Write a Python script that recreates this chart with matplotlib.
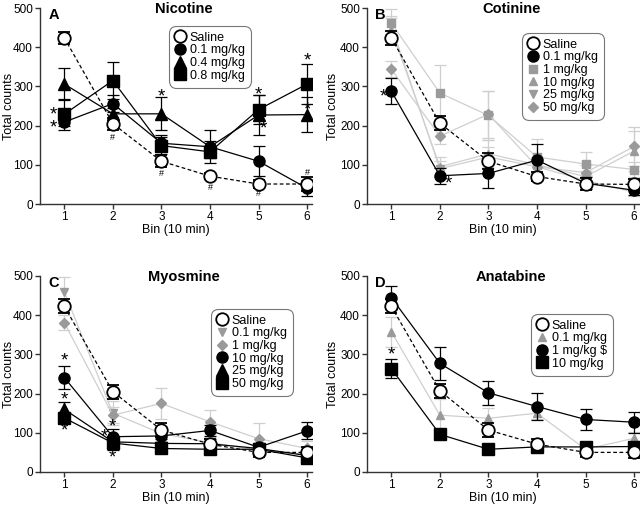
import matplotlib
matplotlib.use("Agg")
import matplotlib.pyplot as plt
import numpy as np

plt.rcParams['font.family'] = ['Liberation Sans', 'DejaVu Sans']

bins = [1, 2, 3, 4, 5, 6]

# Panel A - Nicotine
a_saline = [424, 205, 109, 71, 51, 51]
a_saline_err = [15, 15, 15, 8, 10, 18]
a_01 = [209, 256, 155, 146, 109, 40]
a_01_err = [10, 22, 20, 15, 38, 20]
a_04 = [306, 230, 230, 146, 227, 228]
a_04_err = [40, 15, 42, 42, 50, 45]
a_08 = [229, 315, 149, 133, 241, 306]
a_08_err = [40, 48, 22, 15, 38, 52]

# Panel B - Cotinine
b_saline = [424, 206, 109, 70, 51, 50]
b_saline_err = [18, 18, 20, 12, 15, 15]
b_01 = [288, 72, 78, 112, 53, 35]
b_01_err = [33, 20, 38, 42, 15, 12]
b_1 = [462, 283, 226, 120, 102, 88]
b_1_err = [35, 72, 62, 45, 30, 20]
b_10 = [445, 95, 128, 100, 70, 135]
b_10_err = [30, 25, 35, 20, 15, 50]
b_25 = [455, 90, 120, 95, 60, 30]
b_25_err = [25, 20, 25, 20, 15, 10]
b_50 = [344, 173, 229, 95, 80, 147]
b_50_err = [20, 20, 60, 25, 20, 50]

# Panel C - Myosmine
c_saline = [423, 205, 107, 71, 50, 50]
c_saline_err = [18, 18, 18, 12, 12, 15]
c_01 = [460, 150, 98, 75, 55, 45]
c_01_err = [38, 30, 20, 15, 15, 12]
c_1 = [381, 145, 175, 128, 85, 60]
c_1_err = [20, 20, 40, 30, 40, 20]
c_10 = [241, 90, 92, 106, 63, 105]
c_10_err = [30, 20, 15, 15, 12, 22]
c_25 = [160, 77, 73, 72, 60, 42]
c_25_err = [18, 15, 12, 12, 10, 8]
c_50 = [138, 74, 60, 58, 58, 36]
c_50_err = [12, 18, 10, 12, 10, 8]

# Panel D - Anatabine
d_saline = [423, 207, 107, 71, 50, 50]
d_saline_err = [18, 18, 18, 12, 12, 15]
d_01 = [358, 145, 137, 150, 58, 86]
d_01_err = [38, 40, 25, 15, 10, 15]
d_1 = [445, 277, 202, 167, 134, 127]
d_1_err = [30, 43, 30, 35, 27, 27]
d_10 = [264, 96, 58, 64, 64, 65]
d_10_err = [25, 10, 8, 10, 8, 8]

W, H = 640, 507
fig = plt.figure(figsize=(W / 100, H / 100), dpi=100)

def make_ax(left, top, ylab_x):
    ax = fig.add_axes([left / W, 1 - (top + 196) / H, 272 / W, 196 / H])
    ax.set_xlim(0.5, 6.1)
    ax.set_ylim(0, 500)
    ax.set_yticks([0, 100, 200, 300, 400, 500])
    ax.set_xticks(bins)
    for s in ['top', 'right']:
        ax.spines[s].set_visible(False)
    for s in ['left', 'bottom']:
        ax.spines[s].set_linewidth(1.0)
        ax.spines[s].set_color('#333333')
    ax.tick_params(labelsize=8.5, length=3.5, width=1, color='#333333', pad=1.5)
    ax.set_ylabel('Total counts', fontsize=9)
    ax.yaxis.set_label_coords(ylab_x, 0.5)
    ax.set_xlabel('Bin (10 min)', fontsize=9, labelpad=1)
    return ax

GRAY_M = '#9a9a9a'
GRAY_L = '#cfcfcf'

def series(ax, y, err, style, z):
    if style == 'saline':
        ax.errorbar(bins, y, yerr=err, fmt='o', ls='--', color='black', lw=0.9,
                    mfc='white', mec='black', mew=1.3, ms=9, capsize=4,
                    elinewidth=0.9, capthick=0.9, zorder=z, label='Saline', dashes=(3, 2))
    else:
        kind, marker, ms, label = style
        if kind == 'black':
            ax.errorbar(bins, y, yerr=err, fmt=marker, ls='-', color='black', lw=0.9,
                        mfc='black', mec='black', ms=ms, capsize=4, elinewidth=0.9,
                        capthick=0.9, zorder=z, label=label)
        else:
            ax.errorbar(bins, y, yerr=err, fmt=marker, ls='-', color=GRAY_L, lw=0.9,
                        mfc=GRAY_M, mec=GRAY_M, ms=ms, capsize=4, elinewidth=0.9,
                        capthick=0.9, ecolor=GRAY_L, zorder=z, label=label)

def legend_ordered(ax, order, loc_box, fs=9):
    h, l = ax.get_legend_handles_labels()
    h = [h[i] for i in order]
    l = [l[i] for i in order]
    new = []
    for hh in h:
        line = hh[0]
        new.append(plt.Line2D([], [], ls='none', marker=line.get_marker(),
                              mfc=line.get_markerfacecolor(), mec=line.get_markeredgecolor(),
                              mew=line.get_markeredgewidth(), ms=line.get_markersize()))
    leg = ax.legend(new, l, loc='upper left', bbox_to_anchor=loc_box, fontsize=fs,
                    frameon=True, fancybox=True, handlelength=0.8, handletextpad=0.4,
                    borderpad=0.3, labelspacing=0.05, borderaxespad=0)
    leg.get_frame().set_edgecolor('#555555')
    leg.get_frame().set_linewidth(0.8)
    leg.get_frame().set_boxstyle('round,pad=0.2,rounding_size=0.6')

def head(ax, letter, title):
    ax.text(0.03, 1.0, letter, transform=ax.transAxes, fontsize=10.5,
            fontweight='bold', va='top', ha='left')
    ax.text(0.53, 1.03, title, transform=ax.transAxes, fontsize=10.5,
            fontweight='bold', va='top', ha='center')

def star(ax, x, y, fs=13.5):
    ax.text(x, y, '*', fontsize=fs, ha='center', va='center', zorder=20)

def hashm(ax, x, y):
    ax.text(x, y, '#', fontsize=6.5, ha='center', va='center', zorder=20)

LAB_L = (15 - 40) / 272
LAB_R = (339 - 367) / 272

# ---- A
ax = make_ax(40, 8, LAB_L)
series(ax, a_saline, a_saline_err, 'saline', 10)
series(ax, a_01, a_01_err, ('black', 'o', 8, '0.1 mg/kg'), 6)
series(ax, a_04, a_04_err, ('black', '^', 8, '0.4 mg/kg'), 6)
series(ax, a_08, a_08_err, ('black', 's', 8, '0.8 mg/kg'), 6)
head(ax, 'A', 'Nicotine')
legend_ordered(ax, [0, 1, 2, 3], (131 / 272, 1 - 20 / 196))
star(ax, 0.78, 226); star(ax, 0.78, 195)
star(ax, 3, 272); star(ax, 5, 279); star(ax, 5.1, 192)
star(ax, 6, 364); star(ax, 6, 241)
hashm(ax, 2, 170); hashm(ax, 3, 78); hashm(ax, 4, 43)
hashm(ax, 5, 26); hashm(ax, 6, 80)

# ---- B
ax = make_ax(367, 8, LAB_R)
series(ax, b_1, b_1_err, ('gray', 's', 5.5, '1 mg/kg'), 3)
series(ax, b_10, b_10_err, ('gray', '^', 5.5, '10 mg/kg'), 3)
series(ax, b_25, b_25_err, ('gray', 'v', 5.5, '25 mg/kg'), 3)
series(ax, b_50, b_50_err, ('gray', 'D', 5, '50 mg/kg'), 3)
series(ax, b_saline, b_saline_err, 'saline', 10)
series(ax, b_01, b_01_err, ('black', 'o', 8, '0.1 mg/kg'), 6)
head(ax, 'B', 'Cotinine')
legend_ordered(ax, [4, 5, 0, 1, 2, 3], (157 / 272, 1 - 27 / 196))
star(ax, 0.83, 272); star(ax, 2.17, 52)

# ---- C
ax = make_ax(40, 276, LAB_L)
series(ax, c_01, c_01_err, ('gray', 'v', 5.5, '0.1 mg/kg'), 3)
series(ax, c_1, c_1_err, ('gray', 'D', 5, '1 mg/kg'), 3)
series(ax, c_saline, c_saline_err, 'saline', 10)
series(ax, c_10, c_10_err, ('black', 'o', 8, '10 mg/kg'), 6)
series(ax, c_25, c_25_err, ('black', '^', 8, '25 mg/kg'), 6)
series(ax, c_50, c_50_err, ('black', 's', 8, '50 mg/kg'), 6)
head(ax, 'C', 'Myosmine')
legend_ordered(ax, [2, 0, 1, 3, 4, 5], (173 / 272, 1 - 35 / 196))
star(ax, 1, 284); star(ax, 1, 184); star(ax, 1, 104)
star(ax, 2, 114); star(ax, 1.83, 89); star(ax, 2, 36)

# ---- D
ax = make_ax(367, 276, LAB_R)
series(ax, d_01, d_01_err, ('gray', '^', 5.5, '0.1 mg/kg'), 3)
series(ax, d_saline, d_saline_err, 'saline', 10)
series(ax, d_1, d_1_err, ('black', 'o', 8, '1 mg/kg $'), 6)
series(ax, d_10, d_10_err, ('black', 's', 8, '10 mg/kg'), 6)
head(ax, 'D', 'Anatabine')
legend_ordered(ax, [1, 0, 2, 3], (166 / 272, 1 - 40 / 196))
star(ax, 1, 298)

fig.savefig('out.png', dpi=100)
